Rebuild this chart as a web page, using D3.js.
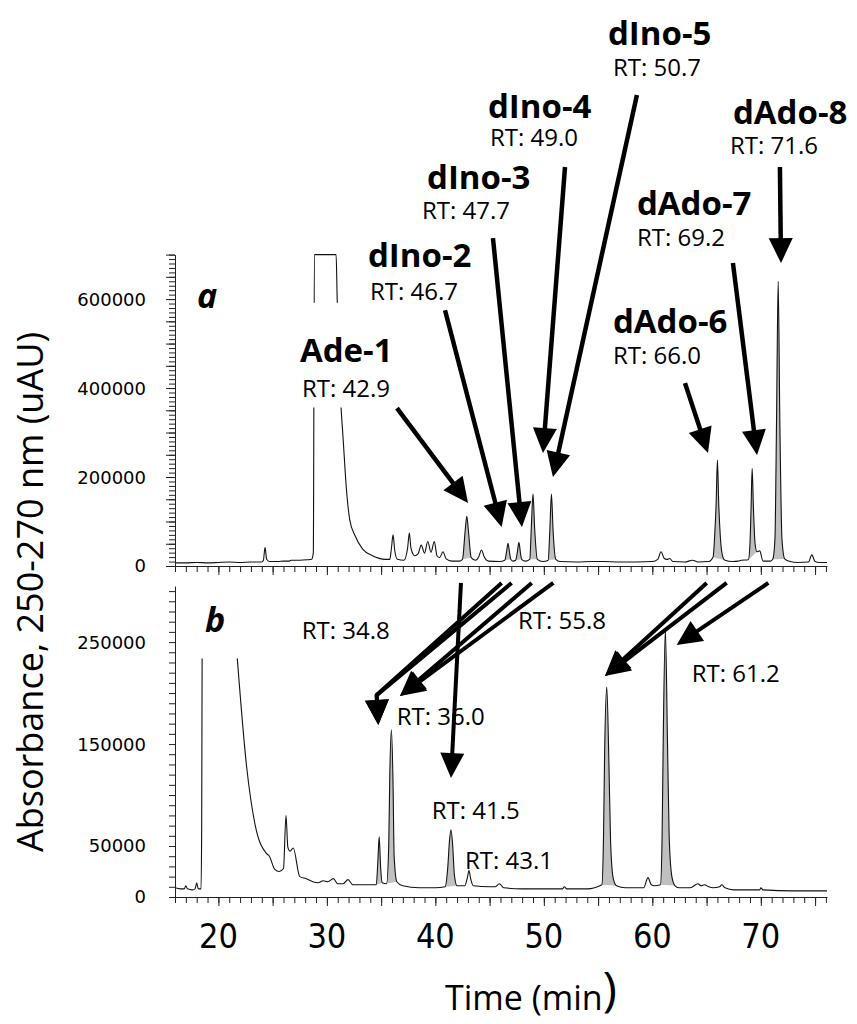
<!DOCTYPE html>
<html>
<head>
<meta charset="utf-8">
<script src="https://cdn.jsdelivr.net/npm/d3@7"></script>
<style>
  body { margin: 0; background: #fff; }
  text { fill: #000; }
</style>
</head>
<body>
<div id="chart"></div>
<script>
// Chromatogram traces, [time (min), absorbance (x1000 uAU)]; null = off scale
const traceA = [
  [16.0, 7], [17.0, 7], [18.0, 8], [19.0, 7], [20.0, 8], [21.0, 9], [22.0, 8], [23.0, 9], [24.0, 9],
  [24.15, 13], [24.3, 42], [24.45, 15], [24.7, 10], [25.5, 10], [26.0, 11], [26.5, 11], [26.7, 13],
  [27.5, 13], [28.2, 14], [28.6, 15], [28.75, 30], [28.85, 700], [30.85, 700], [30.95, 600],
  [31.15, 440], [31.3, 360], [31.5, 285], [31.8, 173], [32.1, 105], [32.6, 68], [33.3, 38], [34.2, 23],
  [35.4, 15], [35.8, 15], [35.95, 40], [36.1, 70], [36.25, 36], [36.5, 15], [37.1, 13], [37.45, 42],
  [37.6, 74], [37.75, 40], [38.1, 23], [38.4, 27], [38.7, 47], [39.0, 29], [39.3, 55], [39.6, 31],
  [39.9, 55], [40.15, 23], [40.4, 19], [40.7, 32], [41.0, 16], [41.5, 11], [42.2, 11], [42.5, 15],
  [42.75, 80], [42.9, 112], [43.05, 78], [43.3, 19], [43.7, 13], [44.0, 21], [44.25, 36], [44.5, 21],
  [44.9, 11], [45.9, 10], [46.4, 13], [46.55, 30], [46.7, 51], [46.85, 28], [46.95, 15], [47.15, 11],
  [47.4, 13], [47.55, 30], [47.7, 53], [47.85, 28], [47.95, 15], [48.3, 11], [48.7, 15], [48.85, 90],
  [49.0, 162], [49.15, 85], [49.4, 15], [49.9, 10], [50.4, 13], [50.55, 80], [50.7, 162], [50.85, 80],
  [51.1, 15], [51.5, 10], [53.0, 9], [54.5, 10], [55.5, 10], [57.0, 9], [58.5, 9], [60.0, 10],
  [60.5, 15], [60.8, 32], [61.1, 17], [61.35, 15], [61.6, 17], [61.9, 10], [63.0, 9], [63.7, 13],
  [64.2, 9], [65.2, 10], [65.6, 20], [65.75, 70], [65.88, 140], [66.0, 238], [66.12, 140], [66.27, 65],
  [66.5, 20], [66.7, 13], [67.4, 10], [67.9, 11], [68.2, 13], [68.85, 14], [69.0, 50], [69.1, 130],
  [69.2, 219], [69.32, 130], [69.47, 50], [69.65, 32], [69.9, 34], [70.2, 11], [70.9, 11], [71.1, 15],
  [71.3, 60], [71.45, 330], [71.6, 640], [71.75, 330], [71.95, 60], [72.2, 16], [72.7, 10], [73.4, 8],
  [74.4, 9], [74.7, 25], [75.0, 10], [75.4, 8], [76.1, 8]
];

const traceB = [
  [16.0, 9], [16.5, 8], [16.85, 8], [17.0, 11], [17.15, 8], [17.6, 7], [17.85, 8], [18.0, 14],
  [18.15, 8], [18.4, 8], [18.46, 70], [18.5, 234], [18.51, null],
  [21.74, 234], [22.6, 128], [23.4, 70], [24.4, 43], [24.7, 40], [25.2, 27], [25.6, 25], [26.0, 28],
  [26.23, 80], [26.4, 49], [26.6, 45], [26.9, 48], [27.5, 20], [28.1, 18], [28.7, 15], [29.2, 14],
  [29.65, 16], [30.1, 15], [30.6, 18], [31.0, 13], [31.5, 13], [31.95, 17], [32.4, 12], [34.0, 12],
  [34.55, 12], [34.7, 35], [34.82, 59], [34.95, 30], [35.1, 14], [35.5, 13], [35.7, 50], [35.8, 120],
  [35.95, 164], [36.1, 110], [36.2, 40], [36.45, 15], [37.0, 11], [38.5, 9], [40.0, 9], [40.9, 10],
  [41.15, 30], [41.3, 55], [41.44, 66], [41.6, 50], [41.75, 22], [42.0, 11], [42.7, 11], [42.95, 19],
  [43.1, 26], [43.25, 18], [43.5, 11], [45.0, 10], [45.5, 10], [45.9, 13], [46.3, 9], [48.0, 8],
  [50.0, 8], [51.7, 8], [51.9, 10], [52.1, 8], [54.0, 8], [55.35, 12], [55.5, 60], [55.6, 140],
  [55.8, 206], [56.0, 130], [56.15, 55], [56.4, 18], [56.7, 11], [57.5, 9], [59.2, 9], [59.6, 19],
  [59.9, 12], [60.2, 11], [60.75, 12], [60.9, 60], [61.0, 150], [61.2, 262], [61.4, 150], [61.55, 60],
  [61.8, 20], [62.1, 11], [62.5, 9], [63.5, 9], [64.2, 13], [64.5, 11], [64.8, 12], [65.2, 10],
  [65.6, 9], [66.2, 10], [66.4, 12], [66.7, 9], [67.5, 7], [69.9, 7], [70.0, 9], [70.2, 7],
  [73.0, 6], [76.1, 6]
];

// Integrated (shaded) peaks, [start, end] in min
const fillsA = [[42.5, 43.3], [46.4, 46.95], [47.4, 47.95], [48.7, 49.4], [50.4, 51.1],
                [65.6, 66.7], [68.85, 69.65], [71.1, 72.2]];
const fillsB = [[34.55, 35.1], [35.5, 36.45], [40.9, 42.0], [55.35, 56.7], [60.75, 62.1]];

// Peak labels, anchored in data coordinates of their panel
const labelsA = [
  { name: "Ade-1",  rt: "RT: 42.9", t: 27.52, v: 459,  rtT: 27.71, rtV: 381, box: true },
  { name: "dIno-2", rt: "RT: 46.7", t: 33.79, v: 672,  rtT: 33.97, rtV: 597 },
  { name: "dIno-3", rt: "RT: 47.7", t: 39.23, v: 848,  rtT: 38.77, rtV: 781 },
  { name: "dIno-4", rt: "RT: 49.0", t: 44.85, v: 1006, rtT: 45.03, rtV: 943 },
  { name: "dIno-5", rt: "RT: 50.7", t: 55.91, v: 1171, rtT: 56.37, rtV: 1102 },
  { name: "dAdo-6", rt: "RT: 66.0", t: 56.37, v: 523,  rtT: 56.37, rtV: 455 },
  { name: "dAdo-7", rt: "RT: 69.2", t: 58.58, v: 789,  rtT: 58.58, rtV: 720 },
  { name: "dAdo-8", rt: "RT: 71.6", t: 67.43, v: 994,  rtT: 67.15, rtV: 927 }
];
const labelsB = [
  { rt: "RT: 34.8", t: 27.68, v: 253.5 },
  { rt: "RT: 36.0", t: 36.43, v: 168.7 },
  { rt: "RT: 41.5", t: 39.66, v: 76.5 },
  { rt: "RT: 43.1", t: 42.73, v: 27.9 },
  { rt: "RT: 55.8", t: 47.62, v: 263.3 },
  { rt: "RT: 61.2", t: 63.63, v: 211.3 }
];

// Arrows: list of [time, value] points, last one is the tip
const arrowsA = [
  [[36.46, 355], [43.01, 141.6]],
  [[40.89, 575], [46.11, 87.7]],
  [[45.31, 737], [47.98, 87.7]],
  [[51.95, 897], [49.92, 254]],
  [[58.58, 1059], [50.84, 200]],
  [[63.01, 411], [65.13, 254]],
  [[67.43, 681], [69.65, 249.5]],
  [[71.76, 897], [71.86, 681]]
];
const arrowsB = [
  [[42.36, 308], [41.44, 116.7]],
  [[46.11, 308], [34.59, 198], [34.74, 168.7]],
  [[47.03, 308], [34.59, 198], [34.74, 168.7]],
  [[48.88, 308], [36.74, 197.1]],
  [[50.87, 308], [36.74, 197.1]],
  [[65.01, 308], [55.63, 216.7]],
  [[66.85, 308], [55.63, 216.7]],
  [[70.69, 308], [62.24, 247.1]]
];

const xTickLabels = [20, 30, 40, 50, 60, 70];
const yTickLabelsA = [0, 200, 400, 600];
const yTickLabelsB = [0, 50, 150, 250];

// Layout
const width = 857, height = 1024;
const sans = "'Open Sans', 'Noto Sans', sans-serif";

const svg = d3.select("#chart").append("svg")
    .attr("width", width)
    .attr("height", height)
    .attr("viewBox", [0, 0, width, height]);

const x = d3.scaleLinear().domain([16, 76.1]).range([175, 827]);
const yA = d3.scaleLinear().domain([0, 700]).range([566, 254.6]);
const yB = d3.scaleLinear().domain([0, 305]).range([897, 586]);

const fmt = v => d3.format("d")(v * 1000);

function drawFills(ys, trace, ranges) {
  ranges.forEach(([a, b]) => {
    const pts = trace.filter(d => d[1] != null && d[0] >= a && d[0] <= b);
    const t0 = pts[0][0], t1 = pts[pts.length - 1][0];
    const v0 = pts[0][1], v1 = pts[pts.length - 1][1];
    const base = t => v0 + (v1 - v0) * (t - t0) / (t1 - t0);
    svg.append("path")
        .attr("fill", "#c0c0c0")
        .attr("d", d3.area()
          .x(d => x(d[0]))
          .y0(d => ys(base(d[0])))
          .y1(d => ys(d[1]))
          .curve(d3.curveMonotoneX)(pts));
  });
}

function drawTrace(ys, trace) {
  svg.append("path")
      .attr("fill", "none")
      .attr("stroke", "#111")
      .attr("stroke-width", 1.1)
      .attr("d", d3.line()
        .defined(d => d[1] != null)
        .x(d => x(d[0]))
        .y(d => ys(d[1]))
        .curve(d3.curveMonotoneX)(trace));
}

function drawAxes(ys, yMinorStep, yMajorStep, yMax, yLabels, withXLabels) {
  const y0 = ys(0);
  // x axis: minor every 1 min, major every 5
  const gx = svg.append("g").attr("transform", `translate(0,${y0})`);
  gx.call(d3.axisBottom(x).tickValues(d3.range(16, 77, 1)).tickSize(6).tickSizeOuter(0).tickFormat(""));
  gx.append("g").call(d3.axisBottom(x).tickValues(d3.range(20, 77, 5)).tickSize(9).tickFormat(""))
    .select(".domain").remove();
  // y axis
  const gy = svg.append("g").attr("transform", `translate(${x(16)},0)`);
  gy.call(d3.axisLeft(ys).tickValues(d3.range(0, yMax + 0.1, yMinorStep)).tickSize(6).tickSizeOuter(0).tickFormat(""));
  if (yMajorStep) {
    gy.append("g").call(d3.axisLeft(ys).tickValues(d3.range(0, yMax + 0.1, yMajorStep)).tickSize(9).tickFormat(""))
      .select(".domain").remove();
  }
  svg.selectAll(".domain, .tick line").attr("stroke", "#222");

  svg.append("g").selectAll("text")
    .data(yLabels)
    .join("text")
      .attr("x", 146)
      .attr("y", d => ys(d))
      .attr("dy", "0.36em")
      .attr("text-anchor", "end")
      .style("font", "18px 'DejaVu Sans', sans-serif")
      .text(fmt);

  if (withXLabels) {
    svg.append("g").selectAll("text")
      .data(xTickLabels)
      .join("text")
        .attr("x", d => x(d))
        .attr("y", y0 + 51)
        .attr("text-anchor", "middle")
        .style("font-family", "'Liberation Sans Narrow', 'DejaVu Sans Condensed', sans-serif")
        .style("font-size", "34px")
        .text(d => d);
  }
}

function drawArrow(ys, pts, w) {
  const headLen = 25, hw = 12;
  const p = pts.map(([t, v]) => [x(t), ys(v)]);
  const tip = p[p.length - 1], prev = p[p.length - 2];
  const dx = tip[0] - prev[0], dy = tip[1] - prev[1], len = Math.hypot(dx, dy);
  const ux = dx / len, uy = dy / len;
  const base = [tip[0] - ux * headLen, tip[1] - uy * headLen];
  svg.append("path")
      .attr("fill", "none")
      .attr("stroke", "#000")
      .attr("stroke-width", w)
      .attr("stroke-linejoin", "round")
      .attr("d", d3.line()([...p.slice(0, -1), [base[0] + ux * 2, base[1] + uy * 2]]));
  svg.append("path")
      .attr("fill", "#000")
      .attr("d", `M${tip[0]},${tip[1]}L${base[0] - uy * hw},${base[1] + ux * hw}L${base[0] + uy * hw},${base[1] - ux * hw}Z`);
}

// Panel a
drawFills(yA, traceA, fillsA);
drawTrace(yA, traceA);
drawAxes(yA, 10, 50, 700, yTickLabelsA, false);

// Panel b
drawFills(yB, traceB, fillsB);
drawTrace(yB, traceB);
drawAxes(yB, 10, null, 300, yTickLabelsB, true);

// Peak labels, panel a
labelsA.forEach(d => {
  const g = svg.append("g");
  g.append("text")
      .attr("x", x(d.t)).attr("y", yA(d.v))
      .style("font", `700 33px ${sans}`)
      .text(d.name);
  g.append("text")
      .attr("x", x(d.rtT)).attr("y", yA(d.rtV))
      .style("font", `24px ${sans}`)
      .text(d.rt);
  if (d.box) {
    const b = g.node().getBBox();
    g.insert("rect", "text")
        .attr("x", b.x - 3).attr("y", b.y - 24)
        .attr("width", b.width + 8).attr("height", b.height + 28)
        .attr("fill", "#fff");
  }
});

// Peak labels, panel b
svg.append("g").selectAll("text")
  .data(labelsB)
  .join("text")
    .attr("x", d => x(d.t))
    .attr("y", d => yB(d.v))
    .style("font", `24px ${sans}`)
    .text(d => d.rt);

// Arrows
arrowsA.forEach(a => drawArrow(yA, a, 4.5));
arrowsB.forEach(a => drawArrow(yB, a, 4));

// Panel letters
svg.append("text")
    .attr("x", x(18.03)).attr("y", yA(580))
    .style("font", `italic 700 34px ${sans}`)
    .text("a");
svg.append("text")
    .attr("x", x(18.77)).attr("y", yB(260))
    .style("font", `italic 700 34px ${sans}`)
    .text("b");

// Axis titles
svg.append("text")
    .attr("transform", "translate(43,592) rotate(-90)")
    .attr("text-anchor", "middle")
    .style("font", `36px ${sans}`)
    .text("Absorbance, 250-270 nm (uAU)");

const xTitle = svg.append("text")
    .attr("x", 445).attr("y", 1010)
    .style("font", `34px ${sans}`);
xTitle.append("tspan").text("Time (min");
xTitle.append("tspan").style("font-size", "48px").attr("dy", -4).text(")");
</script>
</body>
</html>
